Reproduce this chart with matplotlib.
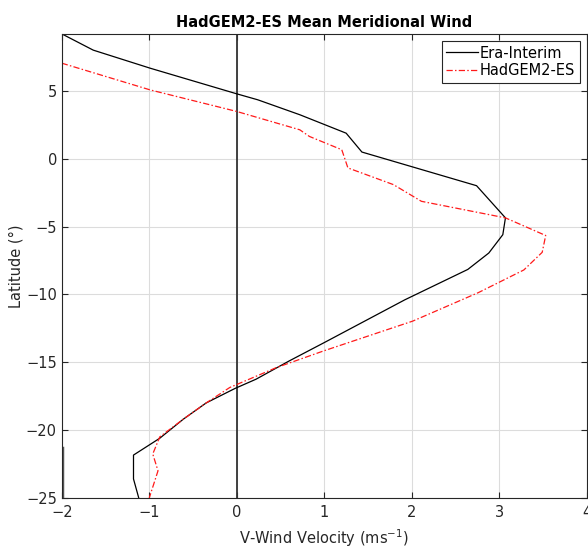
import numpy as np
import matplotlib
matplotlib.use('Agg')
import matplotlib.pyplot as plt

# Era-Interim mean meridional wind profile (latitude, v-wind)
era_lat = [9.2, 8.0, 6.67, 4.78, 4.34, 3.24, 1.88, 0.49, -1.99, -4.36, -5.6,
           -6.95, -8.16, -10.4, -13.55, -14.9, -16.25, -16.93, -18.0, -19.19,
           -20.6, -21.84, -23.6, -25.0]
era_v = [-2.0, -1.64, -0.99, 0.0, 0.24, 0.72, 1.25, 1.43, 2.74, 3.07, 3.04,
         2.88, 2.64, 1.92, 1.0, 0.6, 0.22, -0.02, -0.35, -0.61,
         -0.88, -1.18, -1.18, -1.12]

# HadGEM2-ES profile
had_lat = [7.04, 5.07, 3.48, 2.13, 1.64, 0.66, -0.68, -1.91, -3.14, -4.36,
           -5.66, -6.9, -8.2, -9.87, -11.97, -14.17, -15.4, -16.86, -18.0,
           -19.19, -20.5, -21.76, -23.0, -25.0]
had_v = [-2.0, -0.99, 0.0, 0.72, 0.83, 1.2, 1.27, 1.79, 2.11, 3.07,
         3.53, 3.49, 3.28, 2.76, 2.01, 0.99, 0.45, -0.08, -0.35,
         -0.61, -0.88, -0.96, -0.9, -1.0]

# short dark piece along the left edge near the bottom
edge_lat = [-21.3, -25.0]
edge_v = [-2.0, -2.0]

xticks = [-2, -1, 0, 1, 2, 3, 4]
yticks = [-25, -20, -15, -10, -5, 0, 5]

plt.rcParams['font.family'] = ['DejaVu Sans']

fig = plt.figure(figsize=(5.88, 5.46), dpi=100)
ax = fig.add_axes([0.105, 0.088, 0.893, 0.85])

ax.grid(True, color='#dcdcdc', linewidth=0.8)
ax.set_axisbelow(True)

ax.axvline(0, color='#333333', linewidth=1.3, zorder=1.5)
ax.plot(edge_v, edge_lat, color='#555555', linewidth=2.5, zorder=1.6)

ax.plot(era_v, era_lat, color='black', linewidth=0.9, label='Era-Interim')
ax.plot(had_v, had_lat, color='#ff1a1a', linewidth=0.9,
        dashes=(5, 1.8, 1.2, 1.8), label='HadGEM2-ES')

ax.set_xlim(-2, 4)
ax.set_ylim(-25, 9.2)
ax.set_xticks(xticks)
ax.set_yticks(yticks)
ax.tick_params(direction='in', top=True, right=True, labelsize=10.5,
               colors='#262626', length=4)
ax.tick_params(axis='x', pad=5)
for s in ax.spines.values():
    s.set_color('#262626')
    s.set_linewidth(0.8)

ax.set_xlabel('V-Wind Velocity (ms$^{-1}$)', fontsize=10.5, color='#262626',
              labelpad=5)
ax.set_ylabel('Latitude (°)', fontsize=10.5, color='#262626', labelpad=2)
ax.set_title('HadGEM2-ES Mean Meridional Wind', fontsize=10.5,
             fontweight='bold', pad=5)

leg = ax.legend(loc='upper right', fontsize=10.5, fancybox=False,
                framealpha=1, edgecolor='#262626', handlelength=2.2,
                handletextpad=0.1, borderpad=0.3, labelspacing=0.2,
                borderaxespad=0.5)
leg.get_frame().set_linewidth(0.8)

fig.savefig('out.png', dpi=100)
